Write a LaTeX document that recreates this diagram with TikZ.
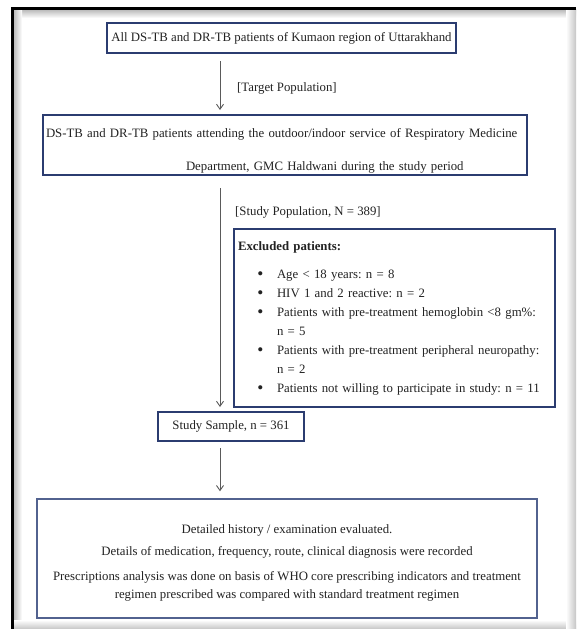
\documentclass[tikz,border=0pt]{standalone}
\usepackage{fontspec}
\setmainfont{Liberation Serif}
\usetikzlibrary{calc,arrows.meta}
\definecolor{boxblue}{HTML}{2B3C70}
\definecolor{paleblue}{HTML}{52628F}
\definecolor{arrowgray}{HTML}{5A5A5A}
\definecolor{inktext}{HTML}{222222}
\frenchspacing
\newcommand{\bigdot}{\raisebox{-0.3ex}{\scalebox{1.35}{\textbullet}}}

\begin{document}
\begin{tikzpicture}[x=1pt,y=-1pt,
    flowbox/.style={draw=boxblue, line width=2pt, fill=white, text=inktext, inner sep=0pt,
        font=\fontsize{12.8}{19}\selectfont},
    flowarrow/.style={draw=arrowgray, line width=0.9pt, -{Straight Barb[length=5pt,width=7pt]}},
    lbl/.style={text=inktext, inner sep=0pt, anchor=west, font=\fontsize{12.8}{19}\selectfont}]
    \useasboundingbox (0,0) rectangle (576,629);
    \fill[white] (0,0) rectangle (576,629);
    % page frame with its shadow
    \shade[top color=gray!55, bottom color=white] (13.5,9.5) rectangle (576,18);
    \shade[left color=gray!55, right color=white] (13.5,9.5) rectangle (22,629);
    \shade[top color=white, bottom color=gray!45] (13.5,620) rectangle (576,629);
    \shade[left color=white, right color=gray!45] (566,9.5) rectangle (576,629);
    \draw[line width=3pt, black] (12,629) -- (12,8) -- (576,8);
    \coordinate (axis) at (220,0);

    \node[flowbox, minimum width=349pt, minimum height=30pt] (popbox) at (281.5,38)
        {All DS-TB and DR-TB patients of Kumaon region of Uttarakhand};
    \node[flowbox, minimum width=484pt, minimum height=60pt, text width=478pt, align=left] (attendbox) at (285,145)
        {\rule{0pt}{20pt}\mbox{DS-TB and DR-TB patients attending the outdoor/indoor service of Respiratory Medicine}\\[14pt]
         \hspace*{140pt}Department, GMC Haldwani during the study period};
    \node[flowbox, minimum width=321pt, minimum height=178pt, text width=313pt, align=left] (exclbox) at (394.5,318)
        {\textbf{Excluded patients:}
         \begin{list}{\bigdot}{\setlength\leftmargin{39pt}\setlength\labelwidth{10pt}\setlength\labelsep{13.5pt}
             \setlength\topsep{9pt}\setlength\partopsep{0pt}\setlength\itemsep{0pt}\setlength\parsep{0pt}}
         \item Age < 18 years: n = 8
         \item HIV 1 and 2 reactive: n = 2
         \item Patients with pre-treatment hemoglobin <8 gm\%:\\ n = 5
         \item Patients with pre-treatment peripheral neuropathy:\\ n = 2
         \item Patients not willing to participate in study: n = 11
         \end{list}};
    \node[flowbox, minimum width=146pt, minimum height=29pt] (samplebox) at (231,426.5)
        {Study Sample, n = 361};
    \node[flowbox, draw=paleblue, line width=1.5pt, minimum width=500pt, minimum height=119pt, align=center] (analysisbox) at (287,558.5)
        {\rule{0pt}{18pt}Detailed history / examination evaluated.\\[3pt]
         Details of medication, frequency, route, clinical diagnosis were recorded\\[6pt]
         Prescriptions analysis was done on basis of WHO core prescribing indicators and treatment\\[-1pt]
         regimen prescribed was compared with standard treatment regimen};

    \node[lbl] (targetlbl) at (237,88) {[Target Population]};
    \node[lbl] (studylbl) at (235,212) {[Study Population, N = 389]};

    \draw[flowarrow, shorten <=7pt, shorten >=4pt] (popbox.south -| axis) -- (attendbox.north -| axis);
    \draw[flowarrow, shorten <=12pt, shorten >=4pt] (attendbox.south -| axis) -- (samplebox.north -| axis);
    \draw[flowarrow, shorten <=6pt, shorten >=7pt] (samplebox.south -| axis) -- (analysisbox.north -| axis);
\end{tikzpicture}
\end{document}
